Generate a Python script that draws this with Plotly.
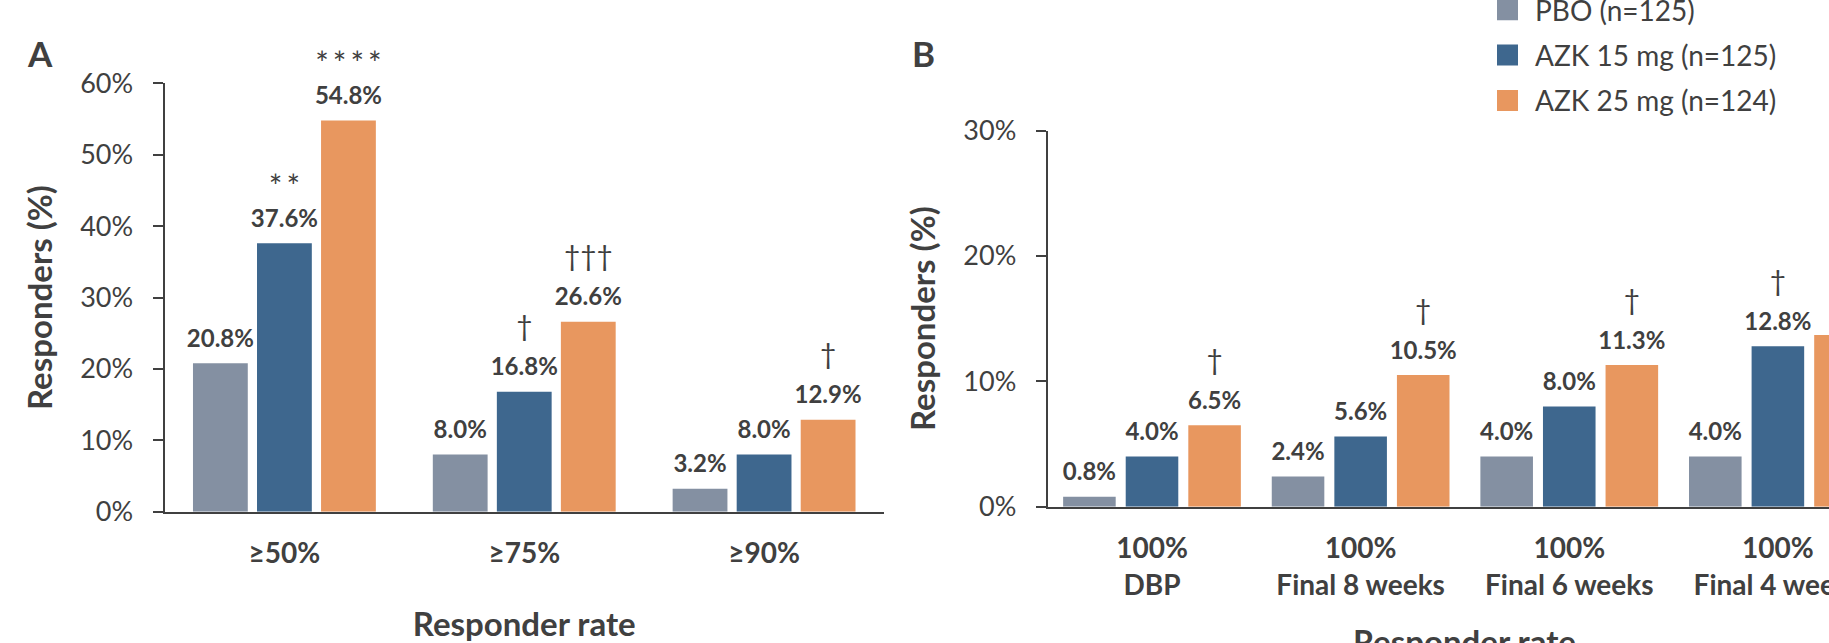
import plotly.graph_objects as go

# ---------------- data ----------------
categories_a = ["≥50%", "≥75%", "≥90%"]
pbo_a = [20.8, 8.0, 3.2]
azk15_a = [37.6, 16.8, 8.0]
azk25_a = [54.8, 26.6, 12.9]
sig15_a = ["**", "†", ""]
sig25_a = ["****", "†††", "†"]

categories_b = ["100%<br>DBP", "100%<br>Final 8 weeks", "100%<br>Final 6 weeks", "100%<br>Final 4 weeks"]
pbo_b = [0.8, 2.4, 4.0, 4.0]
azk15_b = [4.0, 5.6, 8.0, 12.8]
azk25_b = [6.5, 10.5, 11.3, 13.7]
sig15_b = ["", "", "", "†"]
sig25_b = ["†", "†", "†", "†"]

series_names = ["PBO (n=125)", "AZK 15 mg (n=125)", "AZK 25 mg (n=124)"]
yticks_a = [0, 10, 20, 30, 40, 50, 60]
yticks_b = [0, 10, 20, 30]

# ---------------- style ----------------
colors = ["#8490A2", "#3E678E", "#E8975F"]
TXT = "#404040"
FONT = "Lato"
W, H = 1829, 643

fig = go.Figure()


def sig_text(s):
    # spread asterisks a little, like the original typesetting
    return "\u2009".join(s) if "*" in s else s


def add_panel(xa, ya, cats, series, sigs, pitch, width):
    n = len(cats)
    idx = list(range(n))
    for k, (vals, color) in enumerate(zip(series, colors)):
        center = (k - 1) * pitch
        xs = [i + center for i in idx]
        fig.add_trace(go.Bar(
            x=idx, y=vals, width=width, offset=center - width / 2,
            marker=dict(color=color, line=dict(width=0)),
            xaxis=xa, yaxis=ya, showlegend=False, hoverinfo="skip"))
        fig.add_trace(go.Scatter(
            x=xs, y=vals, mode="markers+text",
            text=[f"{v:.1f}%" for v in vals], textposition="top center",
            textfont=dict(family=FONT, size=24, color=TXT, weight="bold"),
            marker=dict(size=15, opacity=0), cliponaxis=False,
            xaxis=xa, yaxis=ya, showlegend=False, hoverinfo="skip"))
        s = sigs[k]
        if s is not None:
            is_star = ["*" in t for t in s]
            fig.add_trace(go.Scatter(
                x=xs, y=vals, mode="markers+text",
                text=[sig_text(t) for t in s], textposition="top center",
                textfont=dict(family=FONT, color=TXT,
                              size=[32 if st else 28 for st in is_star]),
                marker=dict(size=[58 if st else 76 for st in is_star], opacity=0),
                cliponaxis=False,
                xaxis=xa, yaxis=ya, showlegend=False, hoverinfo="skip"))


add_panel("x", "y", categories_a, [pbo_a, azk15_a, azk25_a], [None, sig15_a, sig25_a], 0.267, 0.2285)
add_panel("x2", "y2", categories_b, [pbo_b, azk15_b, azk25_b], [None, sig15_b, sig25_b], 0.300, 0.252)

# legend entries
for name, color in zip(series_names, colors):
    fig.add_trace(go.Scatter(
        x=[None], y=[None], mode="markers", name=name, legendgroup=name,
        marker=dict(symbol="square", size=16, color=color, line=dict(width=5, color=color)),
        hoverinfo="skip"))

axis_common = dict(showgrid=False, zeroline=False, showline=True, linecolor=TXT, linewidth=2)
ytitle_font = dict(family=FONT, size=33, color=TXT, weight="bold")
cat_font = dict(family=FONT, size=28, color=TXT, weight="bold")

fig.update_layout(
    width=W, height=H, template="none",
    paper_bgcolor="white", plot_bgcolor="white",
    margin=dict(l=0, r=0, t=0, b=0, autoexpand=False),
    barmode="overlay",
    font=dict(family=FONT, color=TXT),
    xaxis=dict(domain=[0.08994, 0.48332], range=[-0.5, len(categories_a) - 0.5],
               tickvals=list(range(len(categories_a))), ticktext=categories_a, ticks="",
               tickfont=cat_font, ticklabelstandoff=16, ticklabeloverflow="allow",
               title=dict(text="Responder rate", standoff=49, font=ytitle_font),
               **axis_common),
    yaxis=dict(domain=[0.20420, 0.87014], range=[0, 60], tickvals=yticks_a,
               ticktext=[f"{t}%" for t in yticks_a], ticks="outside", ticklen=10, tickwidth=2,
               tickcolor=TXT, tickfont=dict(family=FONT, size=27, color=TXT),
               ticklabelstandoff=14,
               title=dict(text="Responders (%)", standoff=18, font=ytitle_font),
               **axis_common),
    xaxis2=dict(domain=[0.57282, 1.0], range=[-0.5, 3.245], anchor="y2",
                tickvals=list(range(len(categories_b))), ticktext=categories_b, ticks="",
                tickfont=cat_font, ticklabelstandoff=16, ticklabeloverflow="allow",
                **axis_common),
    yaxis2=dict(domain=[0.21198, 0.79689], range=[0, 30], anchor="x2", tickvals=yticks_b,
                ticktext=[f"{t}%" for t in yticks_b], ticks="outside", ticklen=10, tickwidth=2,
                tickcolor=TXT, tickfont=dict(family=FONT, size=27, color=TXT),
                ticklabelstandoff=14,
                title=dict(text="Responders (%)", standoff=18, font=ytitle_font),
                **axis_common),
    legend=dict(x=1480 / W, y=1 + 15 / H, xanchor="left", yanchor="top",
                font=dict(family=FONT, size=28, color=TXT), itemwidth=45,
                tracegroupgap=6, bgcolor="rgba(0,0,0,0)"),
    annotations=[
        dict(text="A", xref="paper", yref="paper", x=25 / W, y=1 - 30 / H,
             xanchor="left", yanchor="top", showarrow=False,
             font=dict(family=FONT, size=35, color=TXT, weight="bold")),
        dict(text="B", xref="paper", yref="paper", x=910 / W, y=1 - 30 / H,
             xanchor="left", yanchor="top", showarrow=False,
             font=dict(family=FONT, size=35, color=TXT, weight="bold")),
        dict(text="Responder rate", xref="x2", yref="paper", x=(len(categories_b) - 1) / 2,
             y=1 - 641 / H, xanchor="center", yanchor="middle", showarrow=False,
             font=ytitle_font),
    ],
)

fig.write_html(
    "out.html",
    config={"displayModeBar": False},
    post_script="document.body.style.margin='0';document.body.style.overflow='hidden';",
)
